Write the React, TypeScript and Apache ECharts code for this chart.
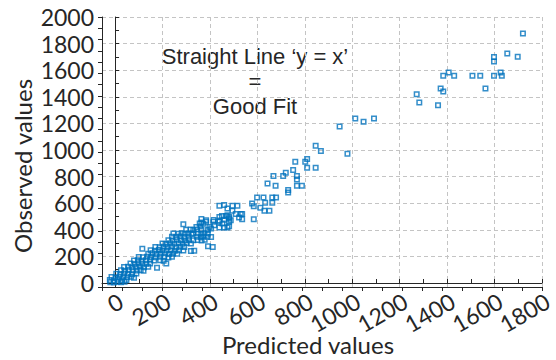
import React, { useEffect, useRef } from "react";
import * as echarts from "echarts";

// [predicted, observed]
const lowCluster: [number, number][] = [
  [-20, 5], [-5, 3], [10, 8], [25, 5], [40, 10],
  [-22, 22], [-5, 18], [12, 24], [30, 20], [48, 22],
  [-15, 45], [2, 42], [18, 48], [35, 45], [52, 44], [68, 48], [80, 40],
  [5, 70], [22, 68], [38, 72], [55, 70], [72, 66], [90, 72],
  [25, 95], [42, 92], [58, 98], [75, 95], [92, 94], [108, 97], [120, 92],
  [38, 120], [55, 122], [72, 118], [88, 121], [105, 124], [122, 119], [140, 122],
  [65, 146], [82, 143], [98, 148], [115, 145], [132, 144], [148, 147],
  [80, 170], [96, 172], [112, 168], [130, 171], [148, 174], [165, 169], [190, 172], [205, 168],
  [100, 196], [118, 193], [135, 198], [152, 195], [170, 194], [190, 197], [208, 195], [225, 192], [240, 198],
  [140, 220], [158, 223], [175, 218], [192, 221], [210, 224], [228, 219], [245, 222], [262, 220],
  [150, 246], [168, 243], [185, 248], [200, 245], [218, 244], [235, 247], [252, 243], [270, 246], [288, 245], [320, 240], [334, 242],
  [170, 271], [188, 268], [205, 272], [222, 270], [240, 274], [258, 269], [275, 272], [292, 270], [392, 276], [412, 271],
  [115, 257], [177, 115], [216, 146],
];

const middleCluster: [number, number][] = [
  [200, 297], [215, 294], [232, 299], [250, 296], [268, 298], [285, 295], [302, 300], [320, 297],
  [225, 322], [242, 320], [260, 325], [278, 322], [295, 319], [312, 324], [330, 321], [348, 323], [365, 320], [378, 325],
  [240, 347], [258, 345], [275, 350], [292, 346], [310, 348], [345, 347], [362, 344], [372, 350], [390, 347], [405, 345],
  [246, 372], [267, 370], [281, 374], [294, 371], [308, 373], [322, 369], [329, 375], [350, 372], [364, 370], [377, 374], [391, 372],
  [300, 400], [318, 402], [330, 398], [345, 403], [364, 400], [391, 398],
  [343, 422], [360, 425], [398, 422], [405, 410], [419, 435], [440, 417], [460, 417], [474, 417], [481, 427],
  [357, 448], [372, 445], [384, 460], [415, 460], [440, 460], [453, 448], [481, 460],
  [364, 482], [384, 472], [415, 474], [440, 470], [460, 476], [481, 485], [488, 472], [364, 455],
  [440, 497], [451, 503], [468, 503], [481, 496], [523, 493], [536, 480],
  [474, 510], [474, 561], [509, 518], [530, 518], [536, 518], [495, 543],
  [440, 580], [460, 586], [495, 580], [516, 580], [288, 442], [585, 480],
];

const upperCluster: [number, number][] = [
  [630, 543], [651, 543], [613, 565], [585, 578], [578, 598], [633, 603], [663, 603],
  [599, 643], [626, 643], [663, 643], [679, 643], [730, 681], [730, 699],
  [643, 749], [677, 731], [767, 731], [788, 731], [668, 804], [709, 804], [767, 804], [767, 779],
  [720, 829], [751, 849], [760, 912], [802, 912], [810, 932], [810, 867], [846, 867],
  [846, 1032], [868, 993], [980, 972],
];

const topCluster: [number, number][] = [
  [947, 1176], [1013, 1236], [1048, 1213], [1092, 1236],
  [1272, 1420], [1283, 1357], [1362, 1337], [1384, 1558], [1407, 1583], [1430, 1558],
  [1373, 1462], [1384, 1439], [1507, 1558], [1540, 1558], [1562, 1462], [1598, 1558],
  [1631, 1558], [1626, 1583], [1598, 1699], [1598, 1665], [1654, 1726], [1698, 1701], [1720, 1876],
];

const xRange = [-55, 1800];
const yRange = [-30, 2000];
const annotationLines = ["Straight Line \u2018y = x\u2019", "=", "Good Fit"];
const xTitle = "Predicted values";
const yTitle = "Observed values";

const FONT = "Lato";
const INK = "#262626";

export default function App() {
  const ref = useRef<HTMLDivElement>(null);
  useEffect(() => {
    if (!ref.current) return;
    const chart = echarts.init(ref.current, null, { renderer: "svg" });
    const points = [...lowCluster, ...middleCluster, ...upperCluster, ...topCluster];
    const axisLine = { show: true, lineStyle: { color: INK, width: 1 } };
    const split = { show: true, lineStyle: { color: "#c4c4c4", type: [4, 3] as any, width: 1 } };
    const plain = (v: number) => String(v);
    chart.setOption({
      animation: false,
      grid: { left: 102, right: 7, top: 17, bottom: 73, containLabel: false },
      xAxis: [
        {
          type: "value",
          position: "bottom",
          min: xRange[0],
          max: xRange[1],
          splitNumber: 9,
          axisLine,
          axisTick: { show: true, inside: true, length: 4, lineStyle: { color: INK } },
          minorTick: { show: true, splitNumber: 2, length: 4, lineStyle: { color: INK } },
          splitLine: split,
          axisLabel: {
            showMinLabel: false,
            rotate: 30,
            align: "right",
            verticalAlign: "top",
            margin: 2,
            fontFamily: FONT,
            fontSize: 23,
            color: INK,
            formatter: plain,
          },
        },
        {
          type: "value",
          position: "top",
          min: 0,
          max: 22,
          interval: 1,
          axisLine,
          axisTick: { show: true, inside: true, length: 4, lineStyle: { color: INK } },
          axisLabel: { show: false },
          splitLine: { show: false },
        },
      ],
      yAxis: [
        {
          type: "value",
          position: "left",
          min: yRange[0],
          max: yRange[1],
          splitNumber: 10,
          axisLine,
          axisTick: { show: true, inside: true, length: 4, lineStyle: { color: INK } },
          minorTick: { show: true, splitNumber: 2, length: 4, lineStyle: { color: INK } },
          splitLine: split,
          axisLabel: {
            showMinLabel: false,
            margin: 8,
            fontFamily: FONT,
            fontSize: 23,
            color: INK,
            formatter: plain,
          },
        },
        {
          type: "value",
          position: "right",
          min: 0,
          max: 24,
          interval: 1,
          axisLine,
          axisTick: { show: true, inside: true, length: 4, lineStyle: { color: INK } },
          axisLabel: { show: false },
          splitLine: { show: false },
        },
      ],
      series: [
        {
          type: "scatter",
          xAxisIndex: 0,
          yAxisIndex: 0,
          data: points,
          symbol: "rect",
          symbolSize: 4.5,
          itemStyle: { color: "rgba(255,255,255,0)", borderColor: "#0072BD", borderWidth: 1.5 },
        },
      ],
      graphic: [
        {
          type: "text",
          x: 255,
          y: 81,
          style: {
            text: annotationLines.join("\n"),
            fontFamily: "Liberation Sans",
            fontSize: 22,
            lineHeight: 25,
            fill: INK,
            textAlign: "center",
            textVerticalAlign: "middle",
          },
        },
        {
          type: "text",
          x: 308,
          y: 344,
          style: { text: xTitle, fontFamily: FONT, fontSize: 24, fill: INK, textAlign: "center", textVerticalAlign: "middle" },
        },
        {
          type: "text",
          x: 22,
          y: 166,
          rotation: Math.PI / 2,
          style: { text: yTitle, fontFamily: FONT, fontSize: 24, fill: INK, textAlign: "center", textVerticalAlign: "middle" },
        },
      ],
    });
    return () => chart.dispose();
  }, []);
  return (
    <div
      ref={ref}
      style={{ position: "fixed", left: 0, top: 0, width: 556, height: 360, background: "#fff" }}
    />
  );
}
